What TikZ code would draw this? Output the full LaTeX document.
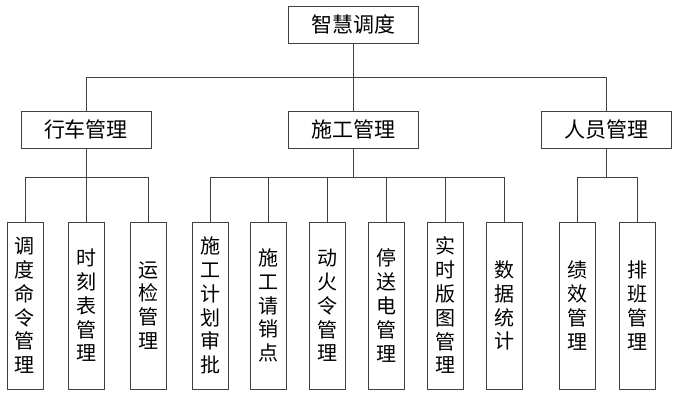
\documentclass[tikz,border=0pt]{standalone}
\usepackage{fontspec}
\newfontfamily\cjk{Noto Sans CJK SC}

\begin{document}
\begin{tikzpicture}[x=1pt, y=-1pt,
  box/.style={draw=black!75, line width=0.8pt, inner sep=0pt,
    font=\cjk\fontsize{21}{24}\selectfont,
    minimum width=130pt, minimum height=37pt},
  leaf/.style={box, align=center, font=\cjk\fontsize{20}{23.8}\selectfont,
    minimum width=36pt, minimum height=167pt},
  link/.style={draw=black!75, line width=0.8pt}]

  \useasboundingbox (0,0) rectangle (673,395);

  % Parameters
  \def\ybusa{77}       % bus under the root
  \def\ybusb{177}      % bus over the leaves
  \def\yleaf{305.5}    % middle of the leaf boxes

  % Root and second level
  \node[box] (root) at (353,24.5) {智慧调度};
  \node[box] (xingche) at (86,129.5) {行车管理};
  \node[box] (shigong) at (353,129.5) {施工管理};
  \node[box] (renyuan) at (606,129.5) {人员管理};

  \coordinate (busa) at (353,\ybusa);
  \coordinate (busb) at (353,\ybusb);

  % Leaves
  \node[leaf] (xc1) at (25,\yleaf) {调\\度\\命\\令\\管\\理};
  \node[leaf] (xc2) at (86,\yleaf) {时\\刻\\表\\管\\理};
  \node[leaf] (xc3) at (148,\yleaf) {运\\检\\管\\理};

  \node[leaf] (sg1) at (210,\yleaf) {施\\工\\计\\划\\审\\批};
  \node[leaf] (sg2) at (268.8,\yleaf) {施\\工\\请\\销\\点};
  \node[leaf] (sg3) at (327.6,\yleaf) {动\\火\\令\\管\\理};
  \node[leaf] (sg4) at (386.4,\yleaf) {停\\送\\电\\管\\理};
  \node[leaf] (sg5) at (445.2,\yleaf) {实\\时\\版\\图\\管\\理};
  \node[leaf] (sg6) at (504,\yleaf) {数\\据\\统\\计};

  \node[leaf] (ry1) at (577,\yleaf) {绩\\效\\管\\理};
  \node[leaf] (ry2) at (637,\yleaf) {排\\班\\管\\理};

  % Root to second level
  \draw[link] (root.south) -- (shigong.north);
  \draw[link] (xingche.north) |- (renyuan.north |- busa) -- (renyuan.north);

  % Second level to leaves
  \draw[link] (xingche.south) -- (xingche.south |- busb);
  \draw[link] (xc1.north) |- (xc3.north |- busb) -- (xc3.north);
  \draw[link] (xc2.north) -- (xc2.north |- busb);

  \draw[link] (shigong.south) -- (shigong.south |- busb);
  \draw[link] (sg1.north) |- (sg6.north |- busb) -- (sg6.north);
  \foreach \i in {2,...,5}
    \draw[link] (sg\i.north) -- (sg\i.north |- busb);

  \draw[link] (renyuan.south) -- (renyuan.south |- busb);
  \draw[link] (ry1.north) |- (ry2.north |- busb) -- (ry2.north);
\end{tikzpicture}
\end{document}
